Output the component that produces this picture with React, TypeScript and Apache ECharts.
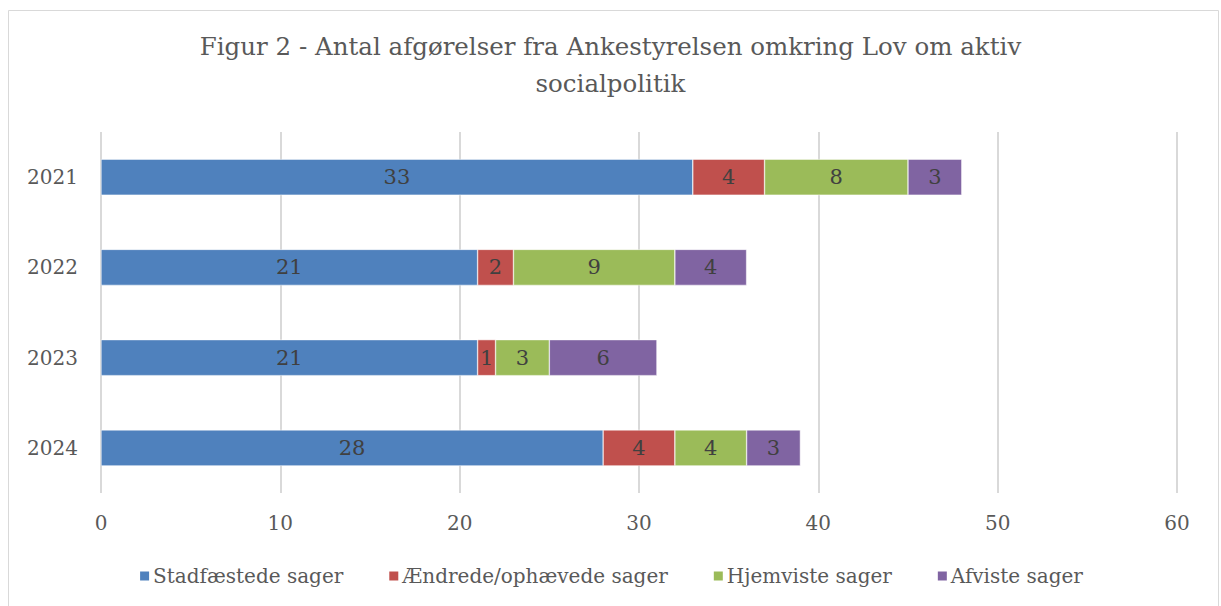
import React, { useEffect, useRef } from "react";
import * as echarts from "echarts";

const years = ["2021", "2022", "2023", "2024"];
const stadfaestede = [33, 21, 21, 28];
const aendrede = [4, 2, 1, 4];
const hjemviste = [8, 9, 3, 4];
const afviste = [3, 4, 6, 3];
const seriesNames = ["Stadfæstede sager", "Ændrede/ophævede sager", "Hjemviste sager", "Afviste sager"];
const colors = ["#4f81bd", "#c0504d", "#9bbb59", "#8064a2"];
const xTicks = { min: 0, max: 60, interval: 10 };

const FONT = "'DejaVu Serif', serif";

export default function App() {
  const ref = useRef<HTMLDivElement>(null);
  useEffect(() => {
    if (!ref.current) return;
    const chart = echarts.init(ref.current, null, { renderer: "svg" });
    const data = [stadfaestede, aendrede, hjemviste, afviste];
    chart.setOption({
      animation: false,
      backgroundColor: "#ffffff",
      title: {
        text: "Figur 2 - Antal afgørelser fra Ankestyrelsen omkring Lov om aktiv\nsocialpolitik",
        left: "center",
        top: 23,
        textStyle: { fontFamily: FONT, fontSize: 24.5, fontWeight: "normal", color: "#595959", lineHeight: 37 },
      },
      graphic: [
        {
          type: "rect",
          shape: { x: 8.5, y: 10.5, width: 1210, height: 610 },
          style: { fill: "none", stroke: "#d9d9d9", lineWidth: 1 },
          silent: true,
        },
      ],
      legend: {
        bottom: 15,
        left: "center",
        itemWidth: 11,
        itemHeight: 11,
        itemGap: 44,
        icon: "rect",
        textStyle: { fontFamily: FONT, fontSize: 20, color: "#595959", padding: [0, 0, 0, -2] },
        data: seriesNames,
      },
      grid: { left: 101, right: 44, top: 132, bottom: 113, containLabel: false },
      xAxis: {
        type: "value",
        min: xTicks.min,
        max: xTicks.max,
        interval: xTicks.interval,
        axisLine: { show: false },
        axisTick: { show: false },
        splitLine: { lineStyle: { color: "#d9d9d9", width: 2 } },
        axisLabel: { fontFamily: FONT, fontSize: 20, color: "#595959", margin: 20 },
      },
      yAxis: {
        type: "category",
        data: years,
        inverse: true,
        axisLine: { show: false },
        axisTick: { show: false },
        axisLabel: { fontFamily: FONT, fontSize: 20, color: "#595959", margin: 23 },
      },
      series: seriesNames.map((name, i) => ({
        name,
        type: "bar",
        stack: "total",
        barWidth: 36,
        data: data[i],
        itemStyle: { color: colors[i], borderColor: "#ffffff", borderWidth: 0.5 },
        label: {
          show: true,
          position: "inside",
          fontFamily: FONT,
          fontSize: 21,
          color: "#404040",
        },
      })),
    });
    return () => chart.dispose();
  }, []);
  return (
    <div
      ref={ref}
      style={{ position: "absolute", left: 0, top: 0, width: 1221, height: 606 }}
    />
  );
}
